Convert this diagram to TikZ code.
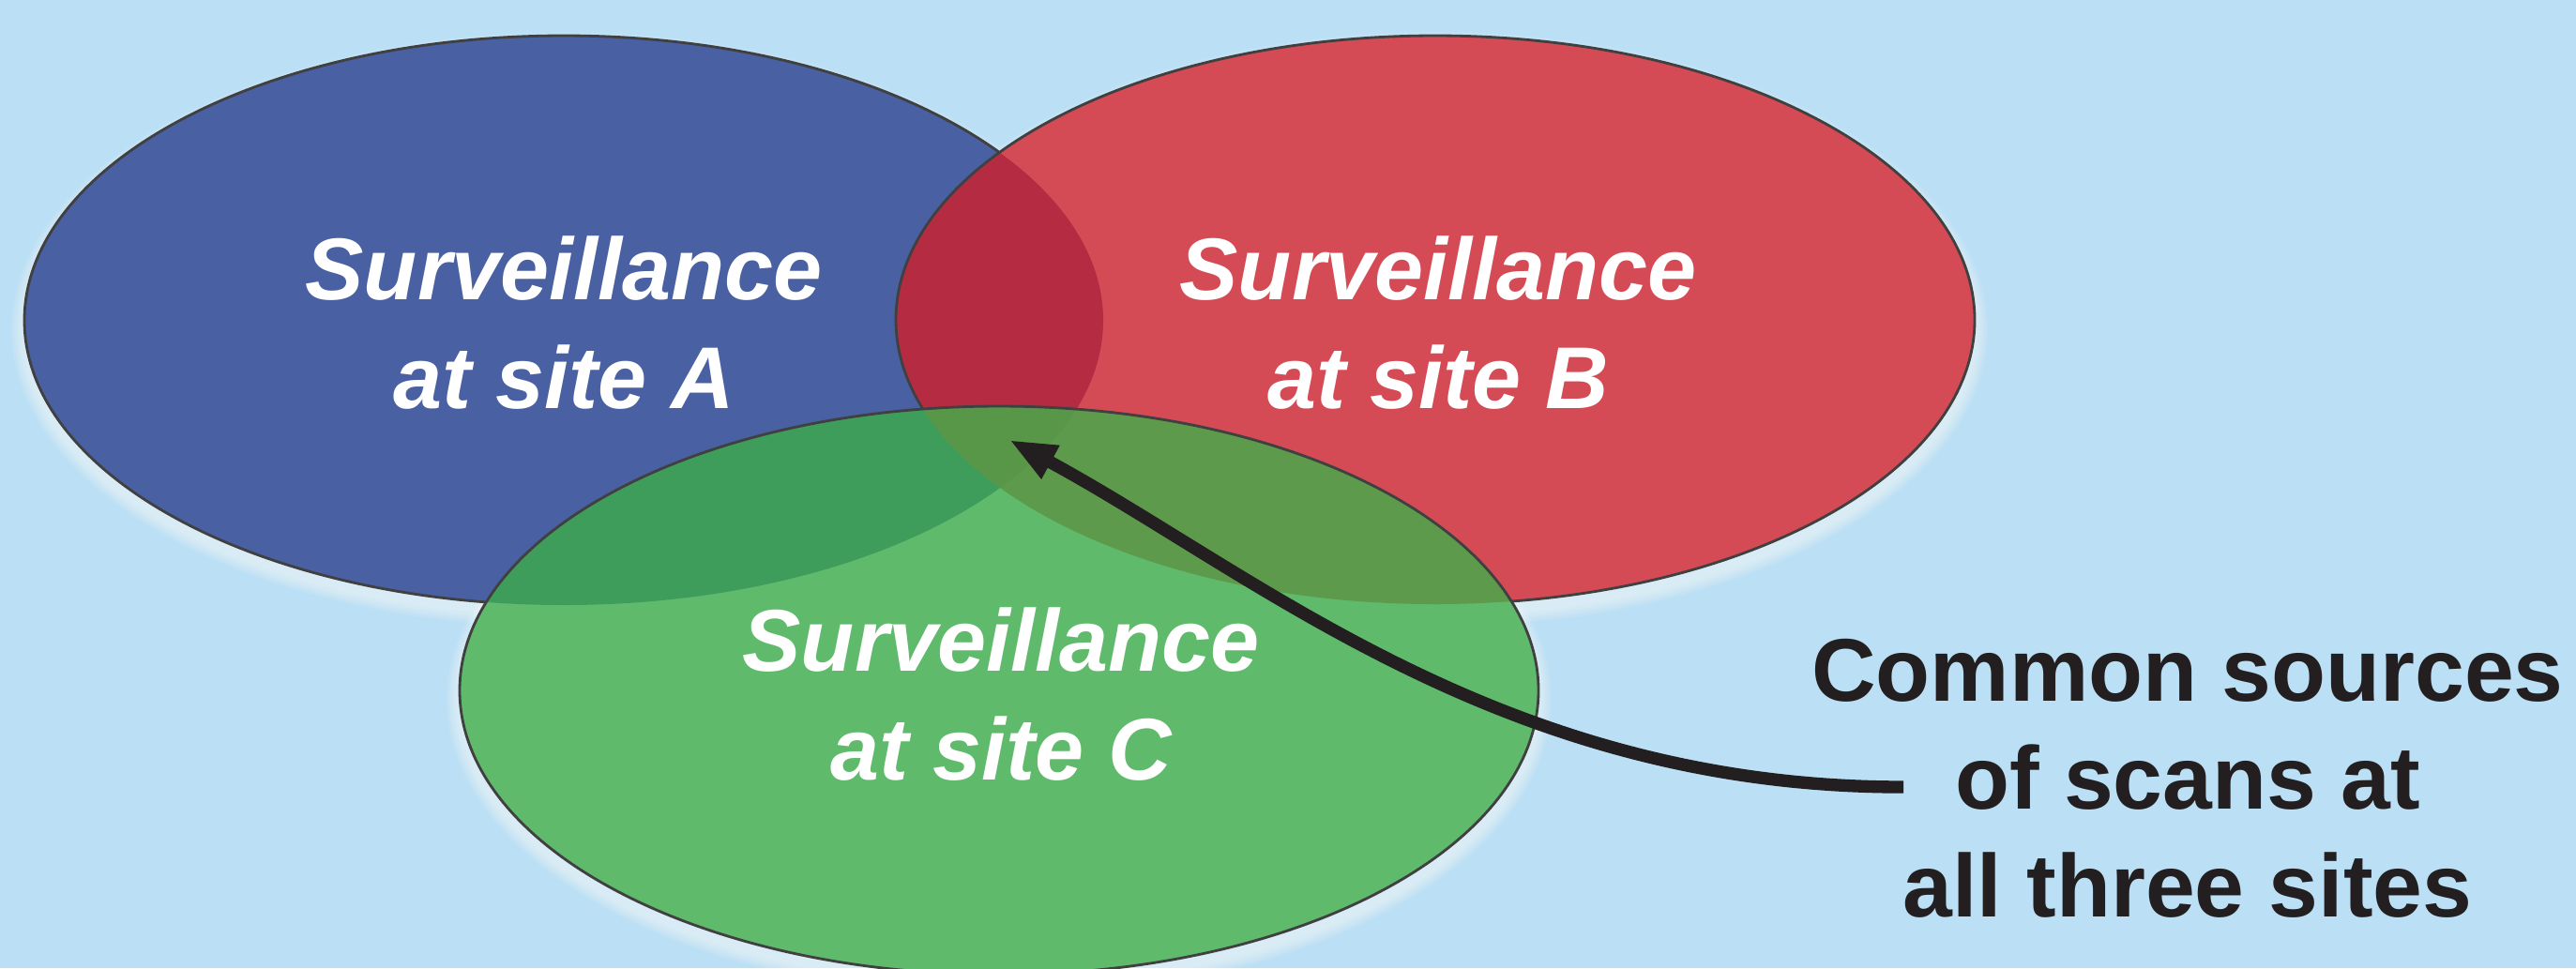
\documentclass[tikz,border=0pt]{standalone}
\usepackage{fontspec}
\setmainfont{Liberation Sans}
\usetikzlibrary{arrows.meta}
\definecolor{skyback}{RGB}{187,223,244}
\definecolor{siteblue}{RGB}{73,96,162}
\definecolor{sitered}{RGB}{212,75,85}
\definecolor{sitegreen}{RGB}{95,186,108}
\definecolor{abred}{RGB}{181,44,66}
\definecolor{acgreen}{RGB}{63,157,91}
\definecolor{bcolive}{RGB}{94,154,75}
\definecolor{abcolive}{RGB}{88,150,72}
\definecolor{inkblack}{RGB}{35,31,32}
\def\ellA{(6.01,-3.415) ellipse (5.75 and 3.035)}
\def\ellB{(15.30,-3.41) ellipse (5.75 and 3.03)}
\def\ellC{(10.65,-7.36) ellipse (5.75 and 3.03)}

\begin{document}
\begin{tikzpicture}[
  rim/.style={draw=black!75, line width=0.8pt},
  glow/.style={white, opacity=0.09},
  sitelabel/.style={text=white, align=center, font=\fontsize{26.6}{33}\selectfont\bfseries\itshape},
  note/.style={text=inkblack, align=center, font=\fontsize{27}{32.7}\selectfont\bfseries},
  pointer/.style={-{Triangle[length=0.5cm, width=0.37cm]}, line width=3.8pt, draw=inkblack}
]
  \fill[skyback] (0,0) rectangle (27.46,-10.32);
  \useasboundingbox (0,0) rectangle (27.46,-10.32);

  % soft white halo under the three sets
  \foreach \cx/\cy in {6.01/-3.415, 15.30/-3.41, 10.65/-7.36}
    \foreach \d in {0.02,0.04,...,0.14}
      \fill[glow] (\cx,\cy-0.1) ellipse ({5.75+\d} and {3.03+\d});

  \fill[siteblue] \ellA;
  \draw[rim] \ellA;
  \fill[sitered] \ellB;
  \begin{scope}
    \clip \ellB;
    \fill[abred] \ellA;
  \end{scope}
  \draw[rim] \ellB;
  \fill[sitegreen] \ellC;
  \begin{scope}
    \clip \ellC;
    \fill[acgreen] \ellA;
    \fill[bcolive] \ellB;
    \clip \ellA;
    \fill[abcolive] \ellB;
  \end{scope}
  \draw[rim] \ellC;

  \node[sitelabel] (siteA) at (6.01,-3.44) {Surveillance\\at site A};
  \node[sitelabel] (siteB) at (15.33,-3.44) {Surveillance\\at site B};
  \node[sitelabel] (siteC) at (10.67,-7.40) {Surveillance\\at site C};

  \node[note] (common) at (23.32,-8.30) {Common sources\\of scans at\\all three sites};
  \coordinate (tail) at (20.29,-8.39);
  \coordinate (triple) at (10.76,-4.69);

  \draw[pointer] (tail) .. controls (16.0,-8.39) and (13.4,-6.12) .. (triple);
\end{tikzpicture}
\end{document}
